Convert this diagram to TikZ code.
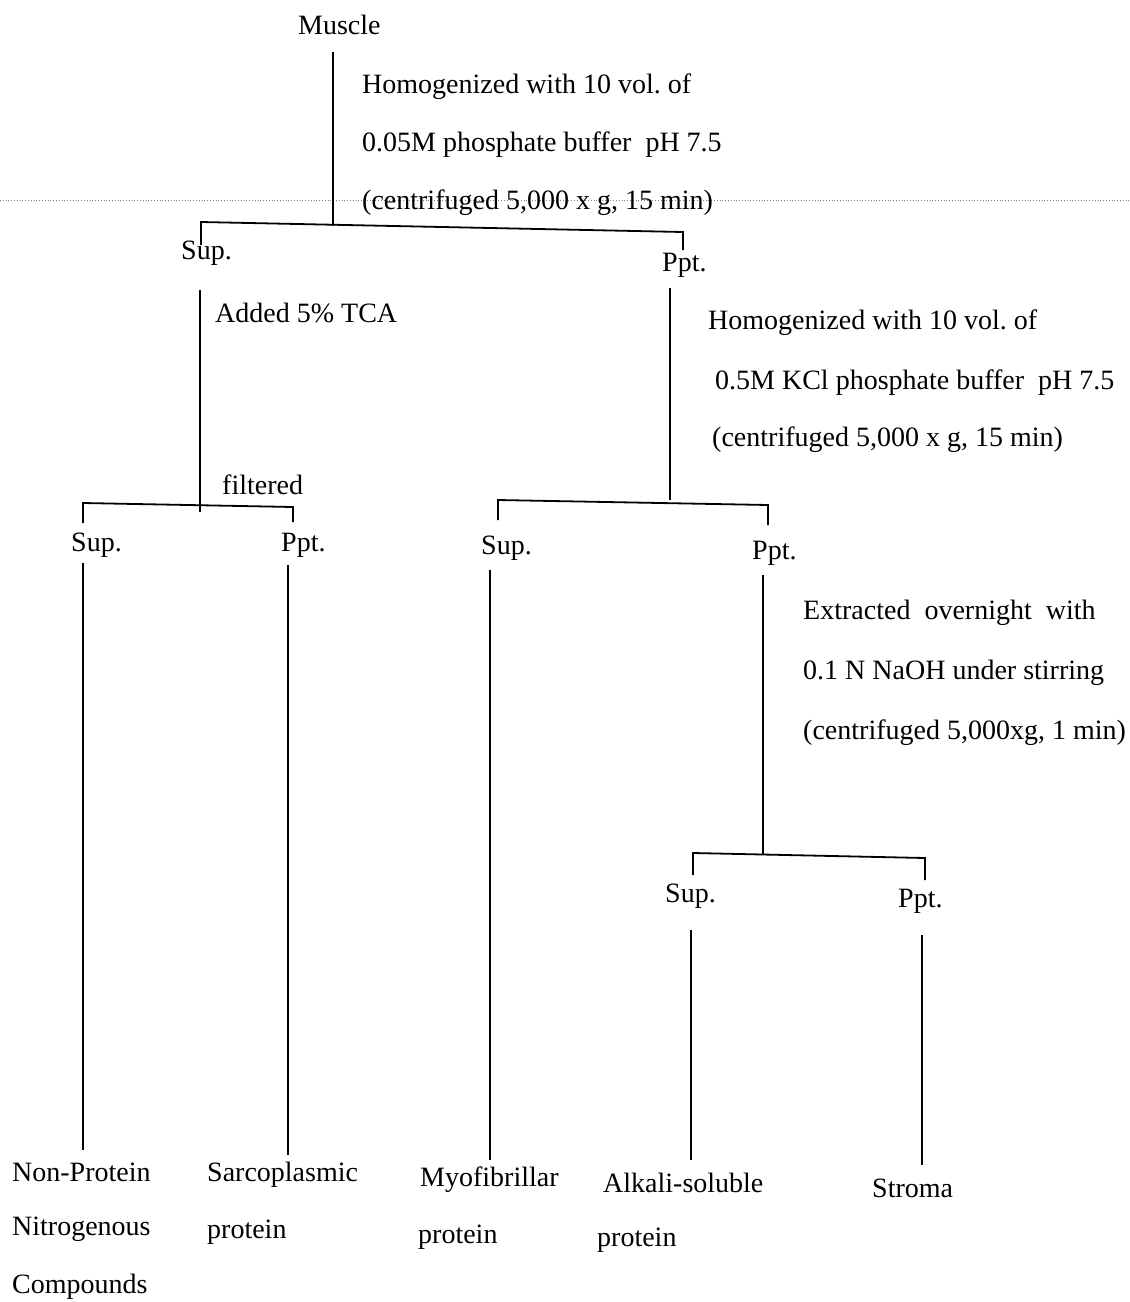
\documentclass[tikz,border=0pt]{standalone}
\usepackage{fontspec}
\setmainfont{Liberation Serif}
\frenchspacing
\begin{document}
\begin{tikzpicture}[x=1pt,y=-1pt,
  lbl/.style={anchor=west,inner sep=0pt,font=\fontsize{28}{33}\selectfont},
  ln/.style={line width=1.8pt},
  dots/.style={gray,dotted,line width=0.8pt}]
\useasboundingbox[fill=white] (0,0) rectangle (1130,1302);
\draw[dots] (0,200) -- (1130,200);
% top
\node[lbl] (muscle) at (298,25) {Muscle};
\node[lbl] (t1a) at (362,87) {Homogenized with 10 vol. of};
\node[lbl] (t1b) at (362,145) {0.05M phosphate buffer\ \ pH 7.5};
\node[lbl] (t1c) at (362,203) {(centrifuged 5,000 x g, 15 min)};
\coordinate (m0) at (333,52);
\coordinate (m1) at (333,226);
\coordinate (b1l) at (201,222);
\coordinate (b1r) at (683,232);
\draw[ln] (m0) -- (m1);
\draw[ln] (201,245) -- (b1l) -- (b1r) -- (683,250);
\node[lbl] (sup1) at (181,253) {Sup.};
\node[lbl] (ppt1) at (662,265) {Ppt.};
% left branch
\node[lbl] (t2) at (215,313) {Added 5\% TCA};
\node[lbl] (t3) at (222,485) {filtered};
\draw[ln] (200,290) -- (200,512);
\draw[ln] (83,523) -- (83,503) -- (293,507) -- (293,522);
\node[lbl] (sup2) at (71,545) {Sup.};
\node[lbl] (ppt2) at (281,545) {Ppt.};
\draw[ln] (83,563) -- (83,1150);
\draw[ln] (288,565) -- (288,1155);
% right branch
\draw[ln] (670,288) -- (670,500);
\node[lbl] (t4a) at (708,323) {Homogenized with 10 vol. of};
\node[lbl] (t4b) at (715,383) {0.5M KCl phosphate buffer\ \ pH 7.5};
\node[lbl] (t4c) at (712,440) {(centrifuged 5,000 x g, 15 min)};
\draw[ln] (498,520) -- (498,500) -- (768,505) -- (768,525);
\node[lbl] (sup3) at (481,548) {Sup.};
\node[lbl] (ppt3) at (752,553) {Ppt.};
\draw[ln] (490,570) -- (490,1160);
\draw[ln] (763,575) -- (763,855);
\node[lbl] (t5a) at (803,613) {Extracted\ \ overnight\ \ with};
\node[lbl] (t5b) at (803,673) {0.1 N NaOH under stirring};
\node[lbl] (t5c) at (803,733) {(centrifuged 5,000xg, 1 min)};
\draw[ln] (693,875) -- (693,853) -- (925,858) -- (925,880);
\node[lbl] (sup4) at (665,896) {Sup.};
\node[lbl] (ppt4) at (898,901) {Ppt.};
\draw[ln] (691,930) -- (691,1160);
\draw[ln] (922,935) -- (922,1165);
% bottom
\node[lbl] (np1) at (12,1172) {Non-Protein};
\node[lbl] (np2) at (12,1229) {Nitrogenous};
\node[lbl] (np3) at (12,1287) {Compounds};
\node[lbl] (sp1) at (207,1175) {Sarcoplasmic};
\node[lbl] (sp2) at (207,1232) {protein};
\node[lbl] (my1) at (420,1180) {Myofibrillar};
\node[lbl] (my2) at (418,1237) {protein};
\node[lbl] (al1) at (603,1183) {Alkali-soluble};
\node[lbl] (al2) at (597,1240) {protein};
\node[lbl] (st) at (872,1188) {Stroma};
\end{tikzpicture}
\end{document}
